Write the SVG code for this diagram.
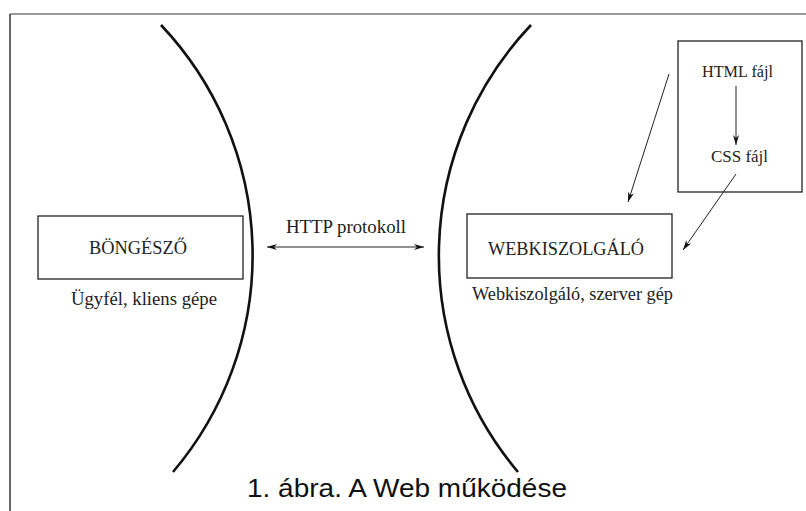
<svg xmlns="http://www.w3.org/2000/svg" width="806" height="511" viewBox="0 0 806 511">
<defs>
<marker id="ah" markerWidth="10" markerHeight="6" refX="10" refY="3" orient="auto-start-reverse" markerUnits="userSpaceOnUse">
<path d="M0,0 L10,3 L0,6 L3,3 Z" fill="#111"/>
</marker>
</defs>
<style>
.box{fill:#fff;stroke:#222;stroke-width:1.3}
.lbl{font-family:"Liberation Serif","Times New Roman",serif;fill:#222;text-anchor:middle}
.arc{fill:none;stroke:#111;stroke-width:2.6}
.con{fill:none;stroke:#222;stroke-width:1;marker-end:url(#ah)}
</style>
<rect width="806" height="511" fill="#fff"/>
<g id="frame">
<line x1="10" y1="14" x2="806" y2="14" stroke="#777" stroke-width="1.5"/>
<line x1="10" y1="14" x2="10" y2="511" stroke="#333" stroke-width="1.5"/>
</g>
<g id="arcs">
<path class="arc" d="M161,25 A335,335 0 0 1 173,472"/>
<path class="arc" d="M531,25 A335,335 0 0 0 518,472"/>
</g>
<g id="browser">
<rect class="box" x="38" y="216" width="205" height="63"/>
<text class="lbl" x="138" y="254" font-size="18" textLength="98" lengthAdjust="spacingAndGlyphs">BÖNGÉSZŐ</text>
<text class="lbl" x="144" y="305" font-size="18" textLength="146" lengthAdjust="spacingAndGlyphs">Ügyfél, kliens gépe</text>
</g>
<g id="server">
<rect class="box" x="467" y="214" width="205" height="64"/>
<text class="lbl" x="566" y="255" font-size="18" textLength="156" lengthAdjust="spacingAndGlyphs">WEBKISZOLGÁLÓ</text>
<text class="lbl" x="572.5" y="300" font-size="18" textLength="201" lengthAdjust="spacingAndGlyphs">Webkiszolgáló, szerver gép</text>
</g>
<g id="files">
<rect class="box" x="678" y="41" width="124" height="151"/>
<text class="lbl" x="737.5" y="77" font-size="16" textLength="71" lengthAdjust="spacingAndGlyphs">HTML fájl</text>
<text class="lbl" x="739.5" y="162" font-size="16" textLength="57" lengthAdjust="spacingAndGlyphs">CSS fájl</text>
</g>
<g id="protocol">
<text class="lbl" x="346" y="233" font-size="19" textLength="120" lengthAdjust="spacingAndGlyphs">HTTP protokoll</text>
</g>
<g id="connectors">
<line class="con" x1="267" y1="247" x2="424" y2="247" style="marker-start:url(#ah)"/>
<line class="con" x1="736" y1="86" x2="736" y2="145"/>
<line class="con" x1="669" y1="74" x2="628" y2="202"/>
<line class="con" x1="736" y1="174" x2="683" y2="250"/>
</g>
<g id="caption">
<text x="407" y="497" font-size="25" text-anchor="middle" font-family="'Liberation Sans',Arial,sans-serif" fill="#111" textLength="320" lengthAdjust="spacingAndGlyphs">1. ábra. A Web működése</text>
</g>
</svg>
